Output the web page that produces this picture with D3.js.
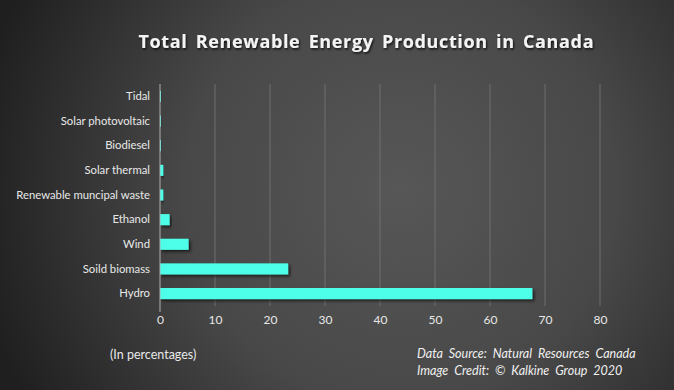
<!DOCTYPE html>
<html><head><meta charset="utf-8">
<script src="https://cdn.jsdelivr.net/npm/d3@7"></script>
<style>html,body{margin:0;padding:0;background:#333;}svg{display:block;}</style>
</head><body>
<svg id="c" width="674" height="390"></svg>
<script>
const categories = ["Tidal","Solar photovoltaic","Biodiesel","Solar thermal","Renewable muncipal waste","Ethanol","Wind","Soild biomass","Hydro"];
const values = [0.05, 0.1, 0.1, 0.6, 0.6, 1.75, 5.2, 23.3, 67.7];
const xTicks = [0,10,20,30,40,50,60,70,80];
const title = "Total Renewable Energy Production in Canada";
const unitNote = "(In percentages)";
const credits = ["Data Source: Natural Resources Canada", "Image Credit: \u00A9 Kalkine Group 2020"];

const W = 674, H = 390;
const svg = d3.select("#c");
const defs = svg.append("defs");
const rg = defs.append("radialGradient").attr("id","bg").attr("gradientUnits","userSpaceOnUse")
  .attr("cx",400).attr("cy",190).attr("r",430);
rg.append("stop").attr("offset","0").attr("stop-color","#575757");
rg.append("stop").attr("offset","0.5").attr("stop-color","#484848");
rg.append("stop").attr("offset","1").attr("stop-color","#1f1f1f");
svg.append("rect").attr("width",W).attr("height",H).attr("fill","url(#bg)");

const sh = defs.append("filter").attr("id","sh").attr("x","-10%").attr("y","-50%").attr("width","130%").attr("height","250%");
sh.append("feDropShadow").attr("dx",2).attr("dy",2).attr("stdDeviation",1.5).attr("flood-color","#000").attr("flood-opacity",0.6);
const tsh = defs.append("filter").attr("id","tsh");
tsh.append("feDropShadow").attr("dx",1).attr("dy",1.5).attr("stdDeviation",1).attr("flood-color","#000").attr("flood-opacity",0.8);

const m = {left:160, right:600, top:84, bottom:306};
const x = d3.scaleLinear().domain([0,80]).range([m.left, m.right]);
const y = d3.scaleBand().domain(categories).range([m.top, m.bottom]).paddingInner(0.55).paddingOuter(0.28);

// gridlines
svg.append("g").selectAll("line").data(xTicks.slice(1)).join("line")
  .attr("x1",d=>x(d)).attr("x2",d=>x(d)).attr("y1",m.top).attr("y2",m.bottom)
  .attr("stroke","#6e6e6e").attr("stroke-width",1);

// bars
svg.append("g").selectAll("rect").data(categories).join("rect")
  .attr("x",x(0)).attr("y",(d)=>y(d))
  .attr("width",(d,i)=>Math.max(1, x(values[i])-x(0))).attr("height",y.bandwidth())
  .attr("fill","#4dffe8").attr("filter","url(#sh)");

// zero axis line
svg.append("line").attr("x1",x(0)).attr("x2",x(0)).attr("y1",m.top).attr("y2",m.bottom+6)
  .attr("stroke","#b0b0b0").attr("stroke-width",1);

const font = "Lato, 'Open Sans', sans-serif";
// x axis
const xa = svg.append("g").attr("transform",`translate(0,${m.bottom})`)
  .call(d3.axisBottom(x).tickValues(xTicks).tickSize(0).tickPadding(9));
xa.select(".domain").remove();
xa.selectAll("text").attr("fill","#e8e8e8").attr("font-size",12).attr("font-family",font);

// y axis
const ya = svg.append("g").attr("transform",`translate(${m.left-10},0)`)
  .call(d3.axisLeft(y).tickSize(0).tickPadding(0));
ya.select(".domain").remove();
ya.selectAll("text").attr("fill","#e8e8e8").attr("font-size",11.3).attr("font-family",font);

// title
svg.append("text").attr("x",366).attr("y",48).attr("text-anchor","middle")
  .attr("font-family","'Open Sans', sans-serif").attr("font-weight","bold").attr("font-size",18)
  .attr("word-spacing",3).attr("textLength",455).attr("lengthAdjust","spacing")
  .attr("fill","#f4f4f4").attr("filter","url(#tsh)").text(title);

svg.append("text").attr("x",110).attr("y",359).attr("font-family",font).attr("font-size",12.5)
  .attr("fill","#e8e8e8").text(unitNote);
svg.append("g").selectAll("text").data(credits).join("text")
  .attr("x",417).attr("y",(d,i)=>358+i*17).attr("font-family",font).attr("font-style","italic")
  .attr("font-size",12.5).attr("fill","#f0f0f0").attr("word-spacing",3).text(d=>d);
</script>
</body></html>
